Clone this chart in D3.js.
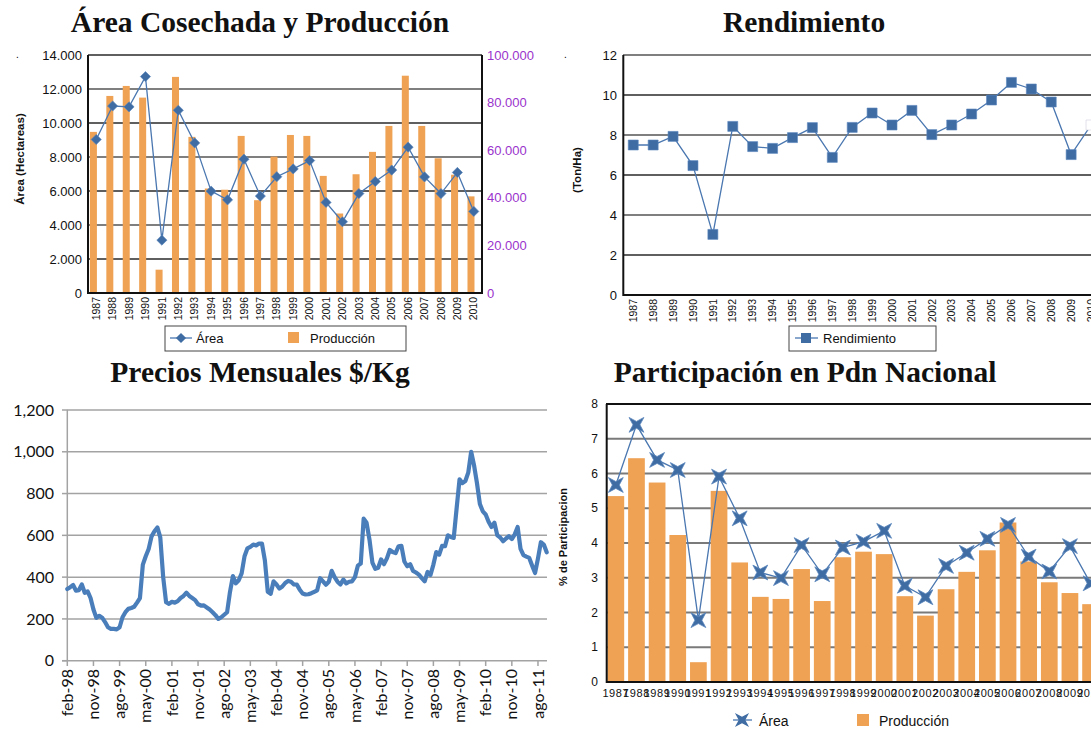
<!DOCTYPE html>
<html>
<head>
<meta charset="utf-8">
<script src="https://cdn.jsdelivr.net/npm/d3@7"></script>
<style>
body{margin:0;background:#fff}
svg{display:block}
</style>
</head>
<body>
<script>
// datos
var anios = ["1987","1988","1989","1990","1991","1992","1993","1994","1995","1996","1997","1998",
  "1999","2000","2001","2002","2003","2004","2005","2006","2007","2008","2009","2010"];
var area = [9030,11000,10950,12730,3110,10750,8830,5990,5480,7870,5700,6840,
  7300,7790,5330,4190,5850,6560,7230,8580,6830,5850,7090,4800];
var produccion = [67700,82800,87000,82100,9800,90800,65600,43900,43400,66000,39000,57300,
  66400,66000,49200,33400,49900,59300,70200,91300,70200,56600,49700,40600];
var rendimiento = [7.5,7.5,7.93,6.47,3.03,8.43,7.42,7.33,7.87,8.37,6.88,8.38,
  9.1,8.5,9.23,8.02,8.5,9.05,9.75,10.63,10.3,9.65,7.02,8.5];
var partArea = [5.67,7.4,6.39,6.1,1.78,5.91,4.71,3.15,2.99,3.94,3.1,3.87,
  4.04,4.35,2.77,2.44,3.34,3.72,4.12,4.52,3.61,3.18,3.91,2.84];
var partProd = [5.35,6.44,5.74,4.23,0.57,5.5,3.44,2.45,2.39,3.25,2.33,3.59,
  3.75,3.68,2.47,1.91,2.67,3.17,3.79,4.59,3.47,2.87,2.56,2.24];
var mesesAbrev = ["ene","feb","mar","abr","may","jun","jul","ago","sep","oct","nov","dic"];
// precios mensuales feb-98 .. nov-11
var precios = [343,352,362,335,338,365,325,332,300,245,205,215,206,185,160,152,152,150,160,208,
  232,248,252,258,278,300,460,500,535,595,620,638,590,400,280,272,282,278,285,300,
  310,325,310,300,290,270,264,265,255,245,232,218,200,208,220,232,330,405,370,385,
  418,500,538,545,556,552,561,560,480,330,320,380,365,345,355,372,382,378,365,364,
  340,322,317,318,323,330,337,395,380,364,378,430,400,378,365,388,370,378,380,400,
  455,465,680,660,580,470,440,445,485,462,490,530,520,515,548,550,475,452,462,430,
  422,412,395,380,425,410,460,520,508,550,548,600,592,588,730,868,850,860,900,1000,
  935,850,750,715,700,665,640,660,600,590,572,585,596,582,605,640,535,505,498,492,
  455,420,490,567,556,519];

var meses = [];
for (var k = 0; k < precios.length; k++) {
  var m = (1 + k) % 12, a = 98 + Math.floor((1 + k) / 12);
  meses.push(mesesAbrev[m] + "-" + String(a % 100).padStart(2, "0"));
}

var azul = "#3f6ca3", naranja = "#efa254";
var fmtPunto = d3.formatLocale({decimal: ",", thousands: ".", grouping: [3], currency: ["$", ""]}).format(",d");

var svg = d3.select("body").append("svg")
  .attr("width", 1091).attr("height", 729)
  .style("font-family", "'Liberation Sans', Arial, sans-serif");

function titulo(txt, x, y) {
  svg.append("text").text(txt)
    .attr("x", x).attr("y", y)
    .attr("text-anchor", "middle")
    .style("font-family", "'Liberation Serif', 'DejaVu Serif', serif")
    .style("font-weight", "bold").style("font-size", "29.5px").attr("fill", "#111");
}
function ejeTitulo(txt, x, y, size) {
  svg.append("text").text(txt)
    .attr("transform", "translate(" + x + "," + y + ") rotate(-90)")
    .attr("text-anchor", "middle").attr("dy", "0.35em")
    .style("font-weight", "bold").style("font-size", size + "px").attr("fill", "#111");
}
function estrella(r) {
  var p = d3.path(), ri = r * 0.33;
  for (var i = 0; i < 8; i++) {
    var ang = Math.PI / 4 + i * Math.PI / 4;
    var rr = i % 2 === 0 ? r : ri;
    var px = rr * Math.cos(ang), py = rr * Math.sin(ang);
    if (i === 0) p.moveTo(px, py); else p.lineTo(px, py);
  }
  p.closePath();
  return p.toString();
}

// ---------- Área Cosechada y Producción ----------
titulo("Área Cosechada y Producción", 260, 32);
svg.append("text").text(".").attr("x", 16).attr("y", 58).style("font-size", "10px");

var x1 = d3.scaleBand().domain(anios).range([88, 482]);
var yA = d3.scaleLinear().domain([0, 14000]).range([293, 55]);
var yP = d3.scaleLinear().domain([0, 100000]).range([293, 55]);
var g1 = svg.append("g");

g1.selectAll(".grid").data(yA.ticks(7)).enter().append("line")
  .attr("x1", 88).attr("x2", 482)
  .attr("y1", function(d){ return yA(d); }).attr("y2", function(d){ return yA(d); })
  .attr("stroke", function(d, i){ return i % 2 ? "#2a2a2a" : "#555"; }).attr("stroke-width", 1.4);

g1.selectAll("rect").data(produccion).enter().append("rect")
  .attr("x", function(d, i){ return x1(anios[i]) + x1.bandwidth() / 2 - 6.3; })
  .attr("width", 7)
  .attr("y", function(d){ return yP(d); })
  .attr("height", function(d){ return 293 - yP(d); })
  .attr("fill", naranja);

g1.append("line").attr("x1", 88).attr("x2", 88).attr("y1", 55).attr("y2", 294).attr("stroke", "#111").attr("stroke-width", 2);
g1.append("line").attr("x1", 482).attr("x2", 482).attr("y1", 55).attr("y2", 294).attr("stroke", "#111").attr("stroke-width", 2);
g1.append("line").attr("x1", 88).attr("x2", 482).attr("y1", 293).attr("y2", 293).attr("stroke", "#111").attr("stroke-width", 2);

var lineaA = d3.line()
  .x(function(d, i){ return x1(anios[i]) + x1.bandwidth() / 2; })
  .y(function(d){ return yA(d); });
g1.append("path").datum(area).attr("d", lineaA).attr("fill", "none").attr("stroke", "#4a77b0").attr("stroke-width", 1.3);
g1.selectAll(".dia").data(area).enter().append("path")
  .attr("d", d3.symbol(d3.symbolSquare, 52)())
  .attr("transform", function(d, i){ return "translate(" + (x1(anios[i]) + x1.bandwidth() / 2) + "," + yA(d) + ") rotate(45)"; })
  .attr("fill", azul).attr("stroke", "#5b86bd").attr("stroke-width", 0.6);

g1.append("g").selectAll("text").data(yA.ticks(7)).enter().append("text")
  .text(function(d){ return fmtPunto(d); })
  .attr("x", 82).attr("y", function(d){ return yA(d); }).attr("dy", "0.35em")
  .attr("text-anchor", "end").style("font-size", "13px").attr("fill", "#111");
g1.append("g").selectAll("text").data(yP.ticks(5)).enter().append("text")
  .text(function(d){ return fmtPunto(d); })
  .attr("x", 487).attr("y", function(d){ return yP(d); }).attr("dy", "0.35em")
  .style("font-size", "13px").attr("fill", "#9a33cc");
g1.append("g").selectAll("text").data(anios).enter().append("text")
  .text(function(d){ return d; })
  .attr("transform", function(d){ return "translate(" + (x1(d) + x1.bandwidth() / 2) + ",297) rotate(-90)"; })
  .attr("text-anchor", "end").attr("dy", "0.35em").style("font-size", "10.5px").attr("fill", "#111");
ejeTitulo("Área (Hectareas)", 20, 159, 11.5);

g1.append("rect").attr("x", 165).attr("y", 326).attr("width", 241).attr("height", 25)
  .attr("fill", "#fff").attr("stroke", "#444").attr("stroke-width", 1);
g1.append("line").attr("x1", 170).attr("x2", 192).attr("y1", 338).attr("y2", 338).attr("stroke", "#4a77b0").attr("stroke-width", 1.3);
g1.append("path").attr("d", d3.symbol(d3.symbolSquare, 52)()).attr("transform", "translate(181,338) rotate(45)").attr("fill", azul);
g1.append("text").text("Área").attr("x", 196).attr("y", 343).style("font-size", "13px").attr("fill", "#111");
g1.append("rect").attr("x", 288).attr("y", 332).attr("width", 11).attr("height", 11).attr("fill", naranja);
g1.append("text").text("Producción").attr("x", 310).attr("y", 343).style("font-size", "13px").attr("fill", "#111");

// ---------- Rendimiento ----------
titulo("Rendimiento", 804, 32);
svg.append("text").text(".").attr("x", 564).attr("y", 58).style("font-size", "10px");

var x2 = d3.scaleBand().domain(anios).range([623.3, 1101]);
var y2 = d3.scaleLinear().domain([0, 12]).range([295, 55]);
var g2 = svg.append("g");
g2.selectAll(".grid").data(y2.ticks(6)).enter().append("line")
  .attr("x1", 623).attr("x2", 1091)
  .attr("y1", function(d){ return y2(d); }).attr("y2", function(d){ return y2(d); })
  .attr("stroke", function(d, i){ return i % 2 ? "#2a2a2a" : "#555"; }).attr("stroke-width", 1.4);
g2.append("line").attr("x1", 623.3).attr("x2", 623.3).attr("y1", 55).attr("y2", 296).attr("stroke", "#111").attr("stroke-width", 2);
g2.append("line").attr("x1", 623).attr("x2", 1091).attr("y1", 295).attr("y2", 295).attr("stroke", "#111").attr("stroke-width", 2);

var linea2 = d3.line()
  .x(function(d, i){ return x2(anios[i]) + x2.bandwidth() / 2; })
  .y(function(d){ return y2(d); });
g2.append("path").datum(rendimiento).attr("d", linea2).attr("fill", "none").attr("stroke", "#4a77b0").attr("stroke-width", 1.3);
g2.selectAll(".sq").data(rendimiento).enter().append("path")
  .attr("d", d3.symbol(d3.symbolSquare, 100)())
  .attr("transform", function(d, i){ return "translate(" + (x2(anios[i]) + x2.bandwidth() / 2) + "," + y2(d) + ")"; })
  .attr("fill", function(d, i){ return i === anios.length - 1 ? "#fff" : azul; })
  .attr("stroke", function(d, i){ return i === anios.length - 1 ? "#ccd" : "#5b86bd"; }).attr("stroke-width", 0.6);

g2.append("g").selectAll("text").data(y2.ticks(6)).enter().append("text")
  .text(function(d){ return d; })
  .attr("x", 617).attr("y", function(d){ return y2(d); }).attr("dy", "0.35em")
  .attr("text-anchor", "end").style("font-size", "13px").attr("fill", "#111");
g2.append("g").selectAll("text").data(anios).enter().append("text")
  .text(function(d){ return d; })
  .attr("transform", function(d){ return "translate(" + (x2(d) + x2.bandwidth() / 2) + ",299) rotate(-90)"; })
  .attr("text-anchor", "end").attr("dy", "0.35em").style("font-size", "10.5px").attr("fill", "#111");
ejeTitulo("(Ton/Ha)", 577, 170, 11.5);

g2.append("rect").attr("x", 789).attr("y", 326).attr("width", 147).attr("height", 25)
  .attr("fill", "#fff").attr("stroke", "#444").attr("stroke-width", 1);
g2.append("line").attr("x1", 795).attr("x2", 818).attr("y1", 338).attr("y2", 338).attr("stroke", "#4a77b0").attr("stroke-width", 1.3);
g2.append("path").attr("d", d3.symbol(d3.symbolSquare, 100)()).attr("transform", "translate(806,338)").attr("fill", azul);
g2.append("text").text("Rendimiento").attr("x", 823).attr("y", 343).style("font-size", "13px").attr("fill", "#111");

// ---------- Precios Mensuales ----------
titulo("Precios Mensuales $/Kg", 260, 382);
var x3 = d3.scalePoint().domain(meses).range([67.3, 546.7]);
var y3 = d3.scaleLinear().domain([0, 1200]).range([660.7, 410]);
var g3 = svg.append("g").style("font-family", "Lato, 'Open Sans', sans-serif");
g3.selectAll(".grid").data(y3.ticks(6).slice(1)).enter().append("line")
  .attr("x1", 67).attr("x2", 547)
  .attr("y1", function(d){ return y3(d); }).attr("y2", function(d){ return y3(d); })
  .attr("stroke", "#a3a3a3").attr("stroke-width", 1.5);
g3.append("line").attr("x1", 67.3).attr("x2", 67.3).attr("y1", 410).attr("y2", 661).attr("stroke", "#a3a3a3").attr("stroke-width", 1.5);
g3.append("line").attr("x1", 62).attr("x2", 547).attr("y1", 660.7).attr("y2", 660.7).attr("stroke", "#a3a3a3").attr("stroke-width", 1.5);
g3.selectAll(".yt").data(y3.ticks(6)).enter().append("line")
  .attr("x1", 62).attr("x2", 67.3)
  .attr("y1", function(d){ return y3(d); }).attr("y2", function(d){ return y3(d); })
  .attr("stroke", "#a3a3a3").attr("stroke-width", 1.5);
var mesesTick = meses.filter(function(d, i){ return i % 9 === 0; });
g3.selectAll(".xt").data(mesesTick).enter().append("line")
  .attr("x1", function(d){ return x3(d); }).attr("x2", function(d){ return x3(d); })
  .attr("y1", 660.7).attr("y2", 666).attr("stroke", "#a3a3a3").attr("stroke-width", 1.5);

var linea3 = d3.line()
  .x(function(d, i){ return x3(meses[i]); })
  .y(function(d){ return y3(d); });
g3.append("path").datum(precios).attr("d", linea3).attr("fill", "none")
  .attr("stroke", "#4a7ebb").attr("stroke-width", 4.2).attr("stroke-linejoin", "round").attr("stroke-linecap", "round");

g3.append("g").selectAll("text").data(y3.ticks(6)).enter().append("text")
  .text(function(d){ return d3.format(",")(d); })
  .attr("x", 54).attr("y", function(d){ return y3(d); }).attr("dy", "0.35em")
  .attr("text-anchor", "end").style("font-size", "16px").attr("fill", "#111");
g3.append("g").selectAll("text").data(mesesTick).enter().append("text")
  .text(function(d){ return d; })
  .attr("transform", function(d){ return "translate(" + x3(d) + ",669) rotate(-90)"; })
  .attr("text-anchor", "end").attr("dy", "0.35em").style("font-size", "16px").attr("fill", "#111");

// ---------- Participación en Pdn Nacional ----------
titulo("Participación en Pdn Nacional", 805, 382);
var x4 = d3.scaleBand().domain(anios).range([605.4, 1101]).paddingInner(0.19).paddingOuter(0.1);
var y4 = d3.scaleLinear().domain([0, 8]).range([682, 404]);
var g4 = svg.append("g");
g4.selectAll(".grid").data(y4.ticks(8)).enter().append("line")
  .attr("x1", 606).attr("x2", 1091)
  .attr("y1", function(d){ return y4(d); }).attr("y2", function(d){ return y4(d); })
  .attr("stroke", function(d){ return d === 8 ? "#111" : "#7a7a7a"; }).attr("stroke-width", 2);
g4.selectAll("rect").data(partProd).enter().append("rect")
  .attr("x", function(d, i){ return x4(anios[i]); })
  .attr("width", x4.bandwidth())
  .attr("y", function(d){ return y4(d); })
  .attr("height", function(d){ return 682 - y4(d); })
  .attr("fill", naranja);
g4.append("line").attr("x1", 606.7).attr("x2", 606.7).attr("y1", 404).attr("y2", 683).attr("stroke", "#111").attr("stroke-width", 2);
g4.append("line").attr("x1", 606).attr("x2", 1091).attr("y1", 682).attr("y2", 682).attr("stroke", "#111").attr("stroke-width", 2);

var linea4 = d3.line()
  .x(function(d, i){ return x4(anios[i]) + x4.bandwidth() / 2; })
  .y(function(d){ return y4(d); });
g4.append("path").datum(partArea).attr("d", linea4).attr("fill", "none").attr("stroke", "#4a77b0").attr("stroke-width", 1.3);
g4.selectAll(".st").data(partArea).enter().append("path")
  .attr("d", estrella(10.5))
  .attr("transform", function(d, i){ return "translate(" + (x4(anios[i]) + x4.bandwidth() / 2) + "," + y4(d) + ")"; })
  .attr("fill", azul).attr("stroke", "#5b86bd").attr("stroke-width", 0.8);

g4.append("g").selectAll("text").data(y4.ticks(8)).enter().append("text")
  .text(function(d){ return d; })
  .attr("x", 598).attr("y", function(d){ return y4(d); }).attr("dy", "0.35em")
  .attr("text-anchor", "end").style("font-size", "12px").attr("fill", "#111");
g4.append("g").selectAll("text").data(anios).enter().append("text")
  .text(function(d){ return d; })
  .attr("x", function(d){ return x4(d) + x4.bandwidth() / 2; }).attr("y", 697)
  .attr("text-anchor", "middle").style("font-size", "11px").style("letter-spacing", "0.6px").attr("fill", "#111");
ejeTitulo("% de Participacion", 563, 537, 11);

g4.append("line").attr("x1", 733).attr("x2", 752).attr("y1", 720).attr("y2", 720).attr("stroke", "#4a77b0").attr("stroke-width", 1.3);
g4.append("path").attr("d", estrella(10)).attr("transform", "translate(742,720)").attr("fill", azul);
g4.append("text").text("Área").attr("x", 759).attr("y", 726).style("font-size", "14px").attr("fill", "#111");
g4.append("rect").attr("x", 857).attr("y", 714).attr("width", 12).attr("height", 12).attr("fill", naranja);
g4.append("text").text("Producción").attr("x", 879).attr("y", 726).style("font-size", "14px").attr("fill", "#111");
</script>
</body>
</html>
